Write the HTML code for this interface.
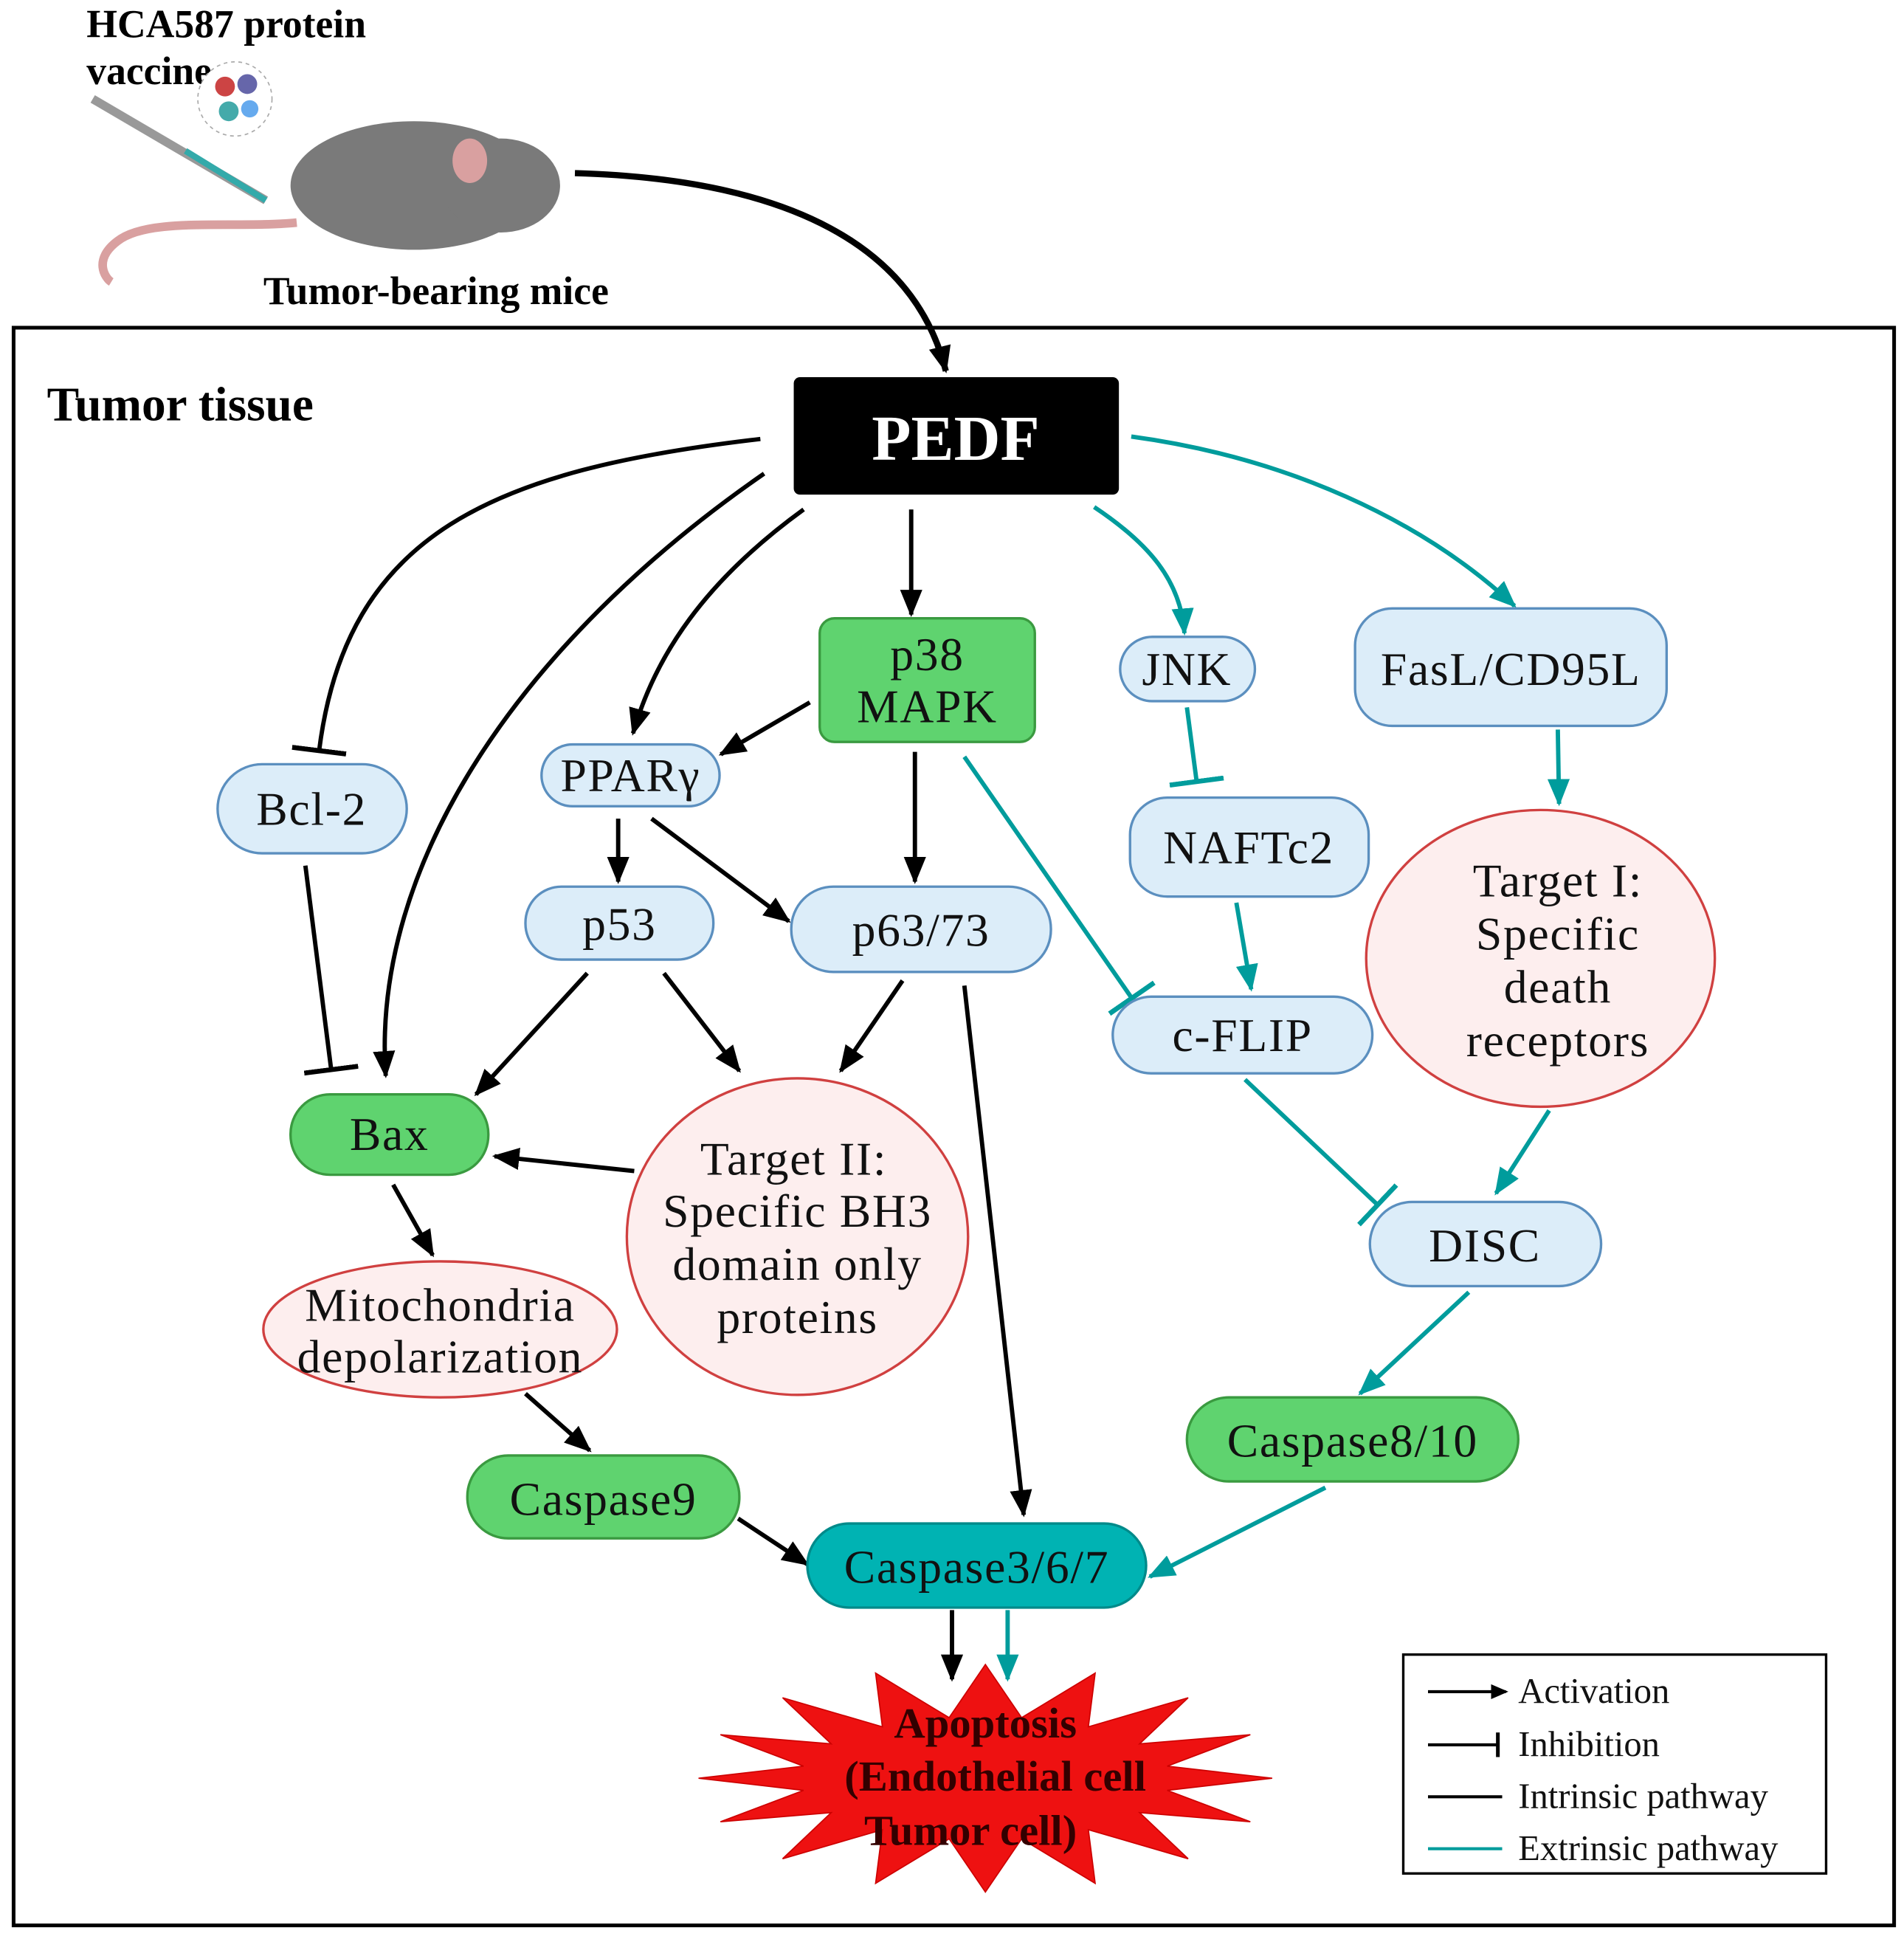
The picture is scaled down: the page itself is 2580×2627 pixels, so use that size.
<!DOCTYPE html>
<html><head><meta charset="utf-8"><style>
html,body{margin:0;padding:0;background:#fff}
svg{display:block}
text{font-family:"Liberation Serif",serif}
</style></head><body>
<svg width="2580" height="2627" viewBox="0 0 1540 1568" preserveAspectRatio="none" xmlns="http://www.w3.org/2000/svg">
<defs>
<marker id="ab" markerUnits="userSpaceOnUse" markerWidth="24" markerHeight="20" refX="20" refY="10" orient="auto"><path d="M0,1 L22,10 L0,19 Z" fill="#000"/></marker>
<marker id="at" markerUnits="userSpaceOnUse" markerWidth="24" markerHeight="20" refX="20" refY="10" orient="auto"><path d="M0,1 L22,10 L0,19 Z" fill="#009c9c"/></marker>
<marker id="ib" markerUnits="userSpaceOnUse" markerWidth="6" markerHeight="44" refX="3" refY="22" orient="auto"><rect x="0" y="0" width="4" height="44" fill="#000"/></marker>
<marker id="it" markerUnits="userSpaceOnUse" markerWidth="6" markerHeight="44" refX="3" refY="22" orient="auto"><rect x="0" y="0" width="4" height="44" fill="#009c9c"/></marker>
<marker id="sb" markerUnits="userSpaceOnUse" markerWidth="14" markerHeight="12" refX="12" refY="6" orient="auto"><path d="M0,0 L14,6 L0,12 Z" fill="#000"/></marker>
<marker id="sib" markerUnits="userSpaceOnUse" markerWidth="4" markerHeight="20" refX="2" refY="10" orient="auto"><rect x="0" y="0" width="3" height="20" fill="#000"/></marker>
</defs>

<text x="70" y="30" font-size="32" font-weight="bold">HCA587 protein</text>
<text x="70" y="68" font-size="32" font-weight="bold">vaccine</text>
<line x1="75" y1="80" x2="215" y2="162" stroke="#999" stroke-width="7"/>
<line x1="150" y1="122" x2="215" y2="162" stroke="#3aa" stroke-width="5"/>
<circle cx="190" cy="80" r="30" fill="#fff" stroke="#aaa" stroke-dasharray="3,3"/>
<circle cx="182" cy="70" r="8" fill="#c44"/><circle cx="200" cy="68" r="8" fill="#66a"/><circle cx="185" cy="90" r="8" fill="#4aa"/><circle cx="202" cy="88" r="7" fill="#6ae"/>
<path d="M240,180 C190,185 120,175 95,195 C75,210 85,225 90,228" fill="none" stroke="#d9a0a0" stroke-width="7"/>
<ellipse cx="335" cy="150" rx="100" ry="52" fill="#7a7a7a"/>
<ellipse cx="405" cy="150" rx="48" ry="38" fill="#7a7a7a"/>
<ellipse cx="380" cy="130" rx="14" ry="18" fill="#d9a0a0"/>
<text x="213" y="246" font-size="32" font-weight="bold">Tumor-bearing mice</text>
<path d="M465,140 C640,145 740,200 765,300" fill="none" stroke="#000" stroke-width="5" marker-end="url(#ab)"/>

<rect x="11" y="265" width="1521" height="1292" fill="none" stroke="#000" stroke-width="3"/>
<text x="38" y="340" font-size="39" font-weight="bold">Tumor tissue</text>
<rect x="642" y="305" width="263" height="95" rx="5" fill="#000"/>
<text x="773" y="372" font-size="52" font-weight="bold" fill="#fff" text-anchor="middle">PEDF</text>

<g fill="none" stroke="#000" stroke-width="3.5">
<path d="M615,355 C400,380 280,430 258,608" marker-end="url(#ib)"/>
<path d="M618,383 C420,520 300,700 312,870" marker-end="url(#ab)"/>
<path d="M650,412 C570,470 530,530 512,593" marker-end="url(#ab)"/>
<path d="M737,412 L737,497" marker-end="url(#ab)"/>
<path d="M655,568 L583,610" marker-end="url(#ab)"/>
<path d="M740,608 L740,713" marker-end="url(#ab)"/>
<path d="M500,662 L500,713" marker-end="url(#ab)"/>
<path d="M527,662 L638,745" marker-end="url(#ab)"/>
<path d="M247,700 L268,866" marker-end="url(#ib)"/>
<path d="M475,787 L385,885" marker-end="url(#ab)"/>
<path d="M537,787 L598,866" marker-end="url(#ab)"/>
<path d="M730,793 L680,866" marker-end="url(#ab)"/>
<path d="M780,797 L828,1225" marker-end="url(#ab)"/>
<path d="M513,947 L400,935" marker-end="url(#ab)"/>
<path d="M318,958 L350,1015" marker-end="url(#ab)"/>
<path d="M425,1127 L477,1173" marker-end="url(#ab)"/>
<path d="M597,1228 L653,1265" marker-end="url(#ab)"/>
<path d="M770,1302 L770,1358" marker-end="url(#ab)"/>
</g>
<g fill="none" stroke="#009c9c" stroke-width="3.5">
<path d="M780,612 L916,808" marker-end="url(#it)"/>
<path d="M885,410 C930,440 955,470 958,512" marker-end="url(#at)"/>
<path d="M915,353 C1040,370 1150,420 1225,490" marker-end="url(#at)"/>
<path d="M960,572 L968,633" marker-end="url(#it)"/>
<path d="M1000,730 L1012,800" marker-end="url(#at)"/>
<path d="M1260,590 L1261,650" marker-end="url(#at)"/>
<path d="M1253,898 L1210,965" marker-end="url(#at)"/>
<path d="M1007,873 L1115,975" marker-end="url(#it)"/>
<path d="M1188,1045 L1100,1127" marker-end="url(#at)"/>
<path d="M1072,1203 L930,1275" marker-end="url(#at)"/>
<path d="M815,1302 L815,1358" marker-end="url(#at)"/>
</g>

<g stroke="#5b8fbf" stroke-width="2" fill="#dcedf9">
<rect x="906" y="515" width="109" height="52" rx="26"/>
<rect x="1096" y="492" width="252" height="95" rx="30"/>
<rect x="438" y="602" width="144" height="50" rx="25"/>
<rect x="176" y="618" width="153" height="72" rx="36"/>
<rect x="914" y="645" width="193" height="80" rx="30"/>
<rect x="425" y="717" width="152" height="59" rx="29"/>
<rect x="640" y="717" width="210" height="69" rx="34"/>
<rect x="900" y="806" width="210" height="62" rx="31"/>
<rect x="1108" y="972" width="187" height="68" rx="34"/>
</g>
<g stroke="#3a9a40" stroke-width="2" fill="#5fd36f">
<rect x="663" y="500" width="174" height="100" rx="12"/>
<rect x="235" y="885" width="160" height="65" rx="32"/>
<rect x="960" y="1130" width="268" height="68" rx="34"/>
<rect x="378" y="1177" width="220" height="67" rx="33"/>
</g>
<rect x="653" y="1232" width="274" height="68" rx="34" fill="#00b3b3" stroke="#008a8a" stroke-width="2"/>
<g stroke="#d04040" stroke-width="2" fill="#fdeeee">
<ellipse cx="1246" cy="775" rx="141" ry="120"/>
<ellipse cx="645" cy="1000" rx="138" ry="128"/>
<ellipse cx="356" cy="1075" rx="143" ry="55"/>
</g>

<g font-size="38" letter-spacing="1" text-anchor="middle" fill="#111">
<text x="960" y="554">JNK</text>
<text x="1222" y="554">FasL/CD95L</text>
<text x="750" y="542">p38</text>
<text x="750" y="584">MAPK</text>
<text x="510" y="640">PPARγ</text>
<text x="252" y="667">Bcl-2</text>
<text x="1010" y="698">NAFTc2</text>
<text x="501" y="760">p53</text>
<text x="745" y="765">p63/73</text>
<text x="1005" y="850">c-FLIP</text>
<text x="1201" y="1020">DISC</text>
<text x="315" y="930">Bax</text>
<text x="1094" y="1178">Caspase8/10</text>
<text x="488" y="1225">Caspase9</text>
<text x="790" y="1280">Caspase3/6/7</text>
<text x="1260" y="725">Target I:</text>
<text x="1260" y="768">Specific</text>
<text x="1260" y="811">death</text>
<text x="1260" y="854">receptors</text>
<text x="642" y="950">Target II:</text>
<text x="645" y="992">Specific BH3</text>
<text x="645" y="1035">domain only</text>
<text x="645" y="1078">proteins</text>
<text x="356" y="1068">Mitochondria</text>
<text x="356" y="1110">depolarization</text>
</g>

<polygon id="star" fill="#ee1111" stroke="#c00" stroke-width="1"/>
<g font-size="35" font-weight="bold" text-anchor="middle" fill="#300">
<text x="797" y="1405">Apoptosis</text>
<text x="805" y="1448">(Endothelial cell</text>
<text x="785" y="1492">Tumor cell)</text>
</g>

<rect x="1135" y="1338" width="342" height="177" fill="#fff" stroke="#000" stroke-width="2"/>
<g stroke-width="2.5" fill="none">
<line x1="1155" y1="1368" x2="1218" y2="1368" stroke="#000" marker-end="url(#sb)"/>
<line x1="1155" y1="1411" x2="1212" y2="1411" stroke="#000" marker-end="url(#sib)"/>
<line x1="1155" y1="1453" x2="1215" y2="1453" stroke="#000"/>
<line x1="1155" y1="1495" x2="1215" y2="1495" stroke="#009c9c"/>
</g>
<g font-size="29" fill="#111">
<text x="1228" y="1377">Activation</text>
<text x="1228" y="1420">Inhibition</text>
<text x="1228" y="1462">Intrinsic pathway</text>
<text x="1228" y="1504">Extrinsic pathway</text>
</g>
</svg>
<script>
(function(){var cx=797,cy=1438,n=16,p=[];for(var i=0;i<n*2;i++){var a=Math.PI*i/n;var o=i%2==0;var rx=o?232:150,ry=o?92:50;p.push((cx+rx*Math.cos(a)).toFixed(1)+","+(cy+ry*Math.sin(a)).toFixed(1));}
document.getElementById("star").setAttribute("points",p.join(" "));})();
</script>
</body></html>
